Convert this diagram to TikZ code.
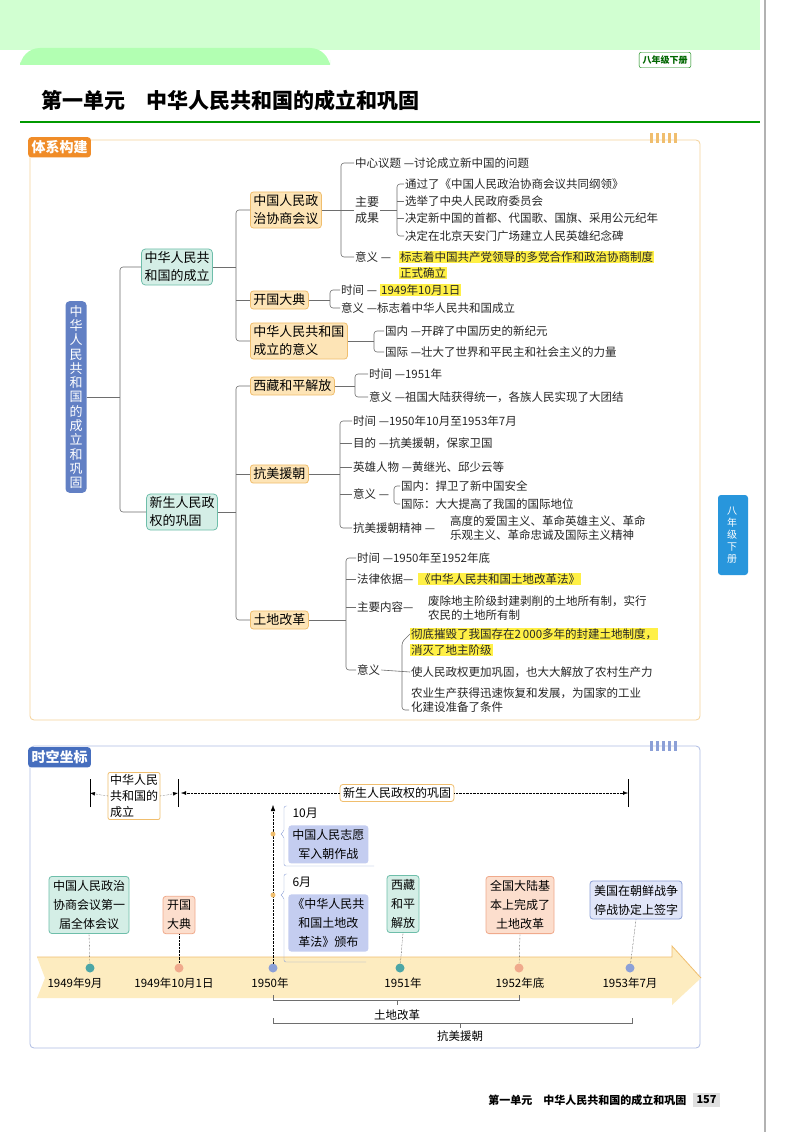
\documentclass[tikz,border=0pt]{standalone}
\usepackage{fontspec}
\setmainfont{Noto Sans CJK SC}
\usetikzlibrary{positioning,arrows.meta}
\definecolor{orfill}{RGB}{253,228,182}
\definecolor{ordraw}{RGB}{240,190,110}
\definecolor{tefill}{RGB}{212,238,230}
\definecolor{tedraw}{RGB}{110,190,170}
\definecolor{blfill}{RGB}{196,205,240}
\definecolor{bldraw}{RGB}{140,160,215}
\definecolor{rootblue}{RGB}{98,128,196}
\definecolor{hlyellow}{RGB}{255,240,70}
\definecolor{pageorange}{RGB}{240,140,40}
\definecolor{pageblue}{RGB}{70,110,190}
\definecolor{linegray}{RGB}{110,110,110}
\definecolor{tabblue}{RGB}{40,150,220}
\definecolor{bandfill}{RGB}{253,236,192}
\definecolor{pinkfill}{RGB}{252,222,205}
\definecolor{pinkdraw}{RGB}{240,170,140}
\begin{document}
\begin{tikzpicture}[x=1pt,y=-1pt,font=\fontsize{11.5}{13.5}\selectfont,
  leaf/.style={anchor=west,inner sep=1pt,text=black!85},
  hl/.style={leaf,fill=hlyellow},
  lone/.style={draw=tedraw,fill=tefill,rounded corners=4pt,thick,align=left,inner sep=3pt,font=\fontsize{13}{18}\selectfont},
  ltwo/.style={draw=ordraw,fill=orfill,rounded corners=3pt,thick,align=left,inner sep=3pt,font=\fontsize{13}{18}\selectfont,anchor=west},
  br/.style={draw=linegray,rounded corners=3pt,line width=0.6pt},
  ev/.style={rounded corners=3pt,thick,align=center,inner sep=4pt,font=\fontsize{12}{19}\selectfont},
  dot/.style={circle,inner sep=0pt,minimum size=9pt},
  date/.style={font=\itshape\fontsize{11.5}{13}\selectfont}]
\useasboundingbox (0,0) rectangle (800,1132);
\fill[white] (0,0) rectangle (800,1132);
% page header
\fill[green!18!white] (0,0) rectangle (760,50);
\fill[green!30!white,rounded corners=20pt] (20,48) rectangle (330,80);
\fill[white] (20,65) rectangle (760,130);
\node[draw=green!50!black,fill=white,rounded corners=2pt,font=\bfseries\fontsize{9}{10}\selectfont,text=green!40!black] (grade) at (665,60) {八年级下册};
\node[anchor=west,font=\bfseries\fontsize{21}{24}\selectfont] (title) at (38,100) {第一单元\quad 中华人民共和国的成立和巩固};
\draw[green!60!black,line width=1.5pt] (20,122) -- (760,122);
% panel one
\draw[ordraw!70,thick,rounded corners=4pt] (30,140) rectangle (700,720);
\node[fill=pageorange,text=white,font=\bfseries\fontsize{14}{16}\selectfont,rounded corners=3pt,anchor=north west] (tagone) at (28,137) {体系构建};
\foreach \i in {0,...,4} \fill[ordraw] (650+\i*6,133) rectangle (653+\i*6,143);
% root and first level
\node[fill=rootblue,text=white,rounded corners=4pt,align=center,inner sep=4pt,
  font=\fontsize{13}{14.3}\selectfont] (root) at (76,397)
  {中\\华\\人\\民\\共\\和\\国\\的\\成\\立\\和\\巩\\固};
\node[lone] (est) at (177,267) {中华人民共\\和国的成立};
\node[lone] (cons) at (182,512) {新生人民政\\权的巩固};
\draw[br] (root.east) -- (120,397);
\draw[br] (est.west) -| (120,397) |- (cons.west);
% second level
\node[ltwo] (cppcc) at (250,210) {中国人民政\\治协商会议};
\node[ltwo] (found) at (250,300) {开国大典};
\node[ltwo] (mean) at (250,341) {中华人民共和国\\成立的意义};
\node[ltwo] (tibet) at (250,386) {西藏和平解放};
\node[ltwo] (korea) at (250,474) {抗美援朝};
\node[ltwo] (land) at (250,620) {土地改革};
\draw[br] (est.east) -- (236,267);
\draw[br] (cppcc.west) -| (236,267) |- (mean.west);
\draw[br] (found.west) -- (236,300);
\draw[br] (cons.east) -- (236,512);
\draw[br] (tibet.west) -| (236,512) |- (land.west);
\draw[br] (korea.west) -- (236,474);
% cppcc leaves
\node[leaf] (topic) at (354,163) {中心议题 —讨论成立新中国的问题};
\node[leaf,align=left,font=\fontsize{12}{16}\selectfont] (result) at (354,210) {主要\\成果};
\node[leaf] (cmean) at (354,257) {意义 —};
\node[hl] (cmeana) at (399,257) {标志着中国共产党领导的多党合作和政治协商制度};
\node[hl] (cmeanb) at (399,273) {正式确立};
\draw[br] (topic.west) -- (341,163) -- (341,257) -- (cmean.west);
\draw[br] (cppcc.east) -- (354,210);
\node[leaf] (ra) at (404,184) {通过了《中国人民政治协商会议共同纲领》};
\node[leaf] (rb) at (404,201) {选举了中央人民政府委员会};
\node[leaf] (rc) at (404,218) {决定新中国的首都、代国歌、国旗、采用公元纪年};
\node[leaf] (rd) at (404,236) {决定在北京天安门广场建立人民英雄纪念碑};
\draw[br] (ra.west) -- (397,184) -- (397,236) -- (rd.west);
\draw[br] (result.east) -- (397,210);
\draw[br] (rb.west) -- (397,201);
\draw[br] (rc.west) -- (397,218);
% founding ceremony
\node[leaf] (ftime) at (340,290) {时间 —};
\node[hl] (fdate) at (380,290) {1949年10月1日};
\node[leaf] (fmean) at (340,308) {意义 —标志着中华人民共和国成立};
\draw[br] (ftime.west) -- (330,290) -- (330,308) -- (fmean.west);
\draw[br] (found.east) -- (330,300);
% meaning
\node[leaf] (home) at (384,331) {国内 —开辟了中国历史的新纪元};
\node[leaf] (world) at (384,352) {国际 —壮大了世界和平民主和社会主义的力量};
\draw[br] (home.west) -- (374,331) -- (374,352) -- (world.west);
\draw[br] (mean.east) -- (374,341);
% tibet
\node[leaf] (ttime) at (368,374) {时间 —1951年};
\node[leaf] (tmean) at (368,397) {意义 —祖国大陆获得统一，各族人民实现了大团结};
\draw[br] (ttime.west) -- (355,374) -- (355,397) -- (tmean.west);
\draw[br] (tibet.east) -- (355,386);
% korea
\node[leaf] (ktime) at (352,421) {时间 —1950年10月至1953年7月};
\node[leaf] (kaim) at (352,443) {目的 —抗美援朝，保家卫国};
\node[leaf] (khero) at (352,467) {英雄人物 —黄继光、邱少云等};
\node[leaf] (kmean) at (352,494) {意义 —};
\node[leaf] (kspirit) at (352,528) {抗美援朝精神 —};
\node[leaf,align=left] (kspirittxt) at (449,528) {高度的爱国主义、革命英雄主义、革命\\乐观主义、革命忠诚及国际主义精神};
\draw[br] (ktime.west) -- (340,421) -- (340,528) -- (kspirit.west);
\draw[br] (korea.east) -- (340,474);
\foreach \n in {kaim,khero,kmean} \draw[br] (\n.west) -- (340,0 |- \n.west);
\node[leaf] (khome) at (400,486) {国内：捍卫了新中国安全};
\node[leaf] (kworld) at (400,504) {国际：大大提高了我国的国际地位};
\draw[br] (khome.west) -- (394,486) -- (394,504) -- (kworld.west);
% land reform
\node[leaf] (ltime) at (356,558) {时间 —1950年至1952年底};
\node[leaf] (llaw) at (356,579) {法律依据—};
\node[hl] (llawtxt) at (418,579) {《中华人民共和国土地改革法》};
\node[leaf] (lcont) at (356,607) {主要内容—};
\node[leaf,align=left] (lconttxt) at (427,608) {废除地主阶级封建剥削的土地所有制，实行\\农民的土地所有制};
\node[leaf] (lmean) at (356,670) {意义};
\draw[br] (ltime.west) -- (346,558) -- (346,670) -- (lmean.west);
\draw[br] (land.east) -- (346,620);
\foreach \n in {llaw,lcont} \draw[br] (\n.west) -- (346,0 |- \n.west);
\node[hl] (lma) at (410,634) {彻底摧毁了我国存在2\,000多年的封建土地制度，};
\node[hl] (lmb) at (410,650) {消灭了地主阶级};
\node[leaf] (lmc) at (410,672) {使人民政权更加巩固，也大大解放了农村生产力};
\node[leaf,align=left] (lmd) at (410,700) {农业生产获得迅速恢复和发展，为国家的工业\\化建设准备了条件};
\draw[br] (lma.west) -- (402,642) -- (402,710) -- (409,710);
\draw[br] (lmean.east) -- (lmc.west);
% side tab
\fill[tabblue,rounded corners=3pt] (718,495) rectangle (748,575);
\node[text=white,align=center,font=\fontsize{10}{12}\selectfont] (tab) at (732,535) {八\\年\\级\\下\\册};
\draw[gray!60,line width=1.5pt] (765,0) -- (765,1132);
% panel two
\draw[bldraw!70,thick,rounded corners=4pt] (30,746) rectangle (700,1048);
\node[fill=pageblue,text=white,font=\bfseries\fontsize{14}{16}\selectfont,rounded corners=3pt,anchor=north west] (tagtwo) at (28,747) {时空坐标};
\foreach \i in {0,...,4} \fill[bldraw] (650+\i*6,741) rectangle (653+\i*6,751);
% range bar
\node[draw=ordraw,thick,fill=white,rounded corners=2pt,align=left,inner sep=2pt,font=\fontsize{12}{16}\selectfont] (rest) at (134,796) {中华人民\\共和国的\\成立};
\node[draw=ordraw,thick,fill=white,rounded corners=3pt,inner sep=3pt,font=\fontsize{12}{14}\selectfont] (rcons) at (397,793) {新生人民政权的巩固};
\coordinate (ta) at (90,793);
\coordinate (tb) at (178,793);
\coordinate (tc) at (628,793);
\foreach \c in {ta,tb,tc} \draw[thick] ([yshift=-14]\c) -- ([yshift=14]\c);
\draw[densely dotted,-{Latex[length=5pt]}] (rest.west) -- (ta);
\draw[densely dotted,-{Latex[length=5pt]}] (rest.east) -- (tb);
\draw[densely dotted,-{Latex[length=5pt]}] (rcons.west) -- ([xshift=3]tb);
\draw[densely dotted,-{Latex[length=5pt]}] (rcons.east) -- (tc);
% timeline band
\fill[bandfill] (37,957) -- (672,957) -- (672,946) -- (701,978) -- (672,1005) -- (672,998) -- (37,998) -- (45,978) -- cycle;
\draw[ordraw,thick] (37,957) -- (672,957) -- (672,946) -- (701,978);
\node[dot,fill=teal!70] (d1) at (90,968) {};
\node[dot,fill=pinkdraw] (d2) at (179,968) {};
\node[dot,fill=bldraw] (d3) at (273,968) {};
\node[dot,fill=teal!70] (d4) at (400,968) {};
\node[dot,fill=pinkdraw] (d5) at (519,968) {};
\node[dot,fill=bldraw] (d6) at (630,968) {};
\node[date] (t1) at (75,983) {1949年9月};
\node[date] (t2) at (174,983) {1949年10月1日};
\node[date] (t3) at (270,983) {1950年};
\node[date] (t4) at (403,983) {1951年};
\node[date] (t5) at (520,983) {1952年底};
\node[date] (t6) at (630,983) {1953年7月};
% events
\node[ev,draw=tedraw,fill=tefill] (e1) at (89,905) {中国人民政治\\协商会议第一\\届全体会议};
\node[ev,draw=pinkdraw,fill=pinkfill] (e2) at (179,915) {开国\\大典};
\node[ev,draw=tedraw,fill=tefill] (e4) at (403,904) {西藏\\和平\\解放};
\node[ev,draw=pinkdraw,fill=pinkfill] (e5) at (520,905) {全国大陆基\\本上完成了\\土地改革};
\node[ev,draw=bldraw,fill=blfill!50] (e6) at (636,900) {美国在朝鲜战争\\停战协定上签字};
\foreach \e/\d in {e1/d1,e2/d2,e4/d4,e5/d5,e6/d6} \draw[densely dotted] (\e.south) -- (\d);
\node[ev,fill=blfill,anchor=north west] (e3a) at (288,825) {中国人民志愿\\军入朝作战};
\node[ev,fill=blfill,anchor=north west] (e3b) at (288,894) {《中华人民共\\和国土地改\\革法》颁布};
\node[anchor=west,font=\fontsize{12}{13}\selectfont] (m10) at (289,813) {10月};
\node[anchor=west,font=\fontsize{12}{13}\selectfont] (m6) at (289,882) {6月};
\draw[densely dotted,-{Latex[length=6pt]}] (d3) -- (273,805);
\node[dot,minimum size=5pt,fill=ordraw] (s10) at (273,834) {};
\node[dot,minimum size=5pt,fill=ordraw] (s6) at (273,895) {};
\draw[bldraw,rounded corners=2pt] (287,806) -- (284,806) -- (284,832) -- (280,834) -- (284,836) -- (284,866) -- (374,866);
\draw[bldraw,rounded corners=2pt] (287,874) -- (284,874) -- (284,893) -- (280,895) -- (284,897) -- (284,962) -- (366,962);
% braces
\draw[linegray] (273,995) -- (273,1000) -- (519,1000) -- (519,995);
\draw[linegray] (397,1000) -- (397,1005);
\node (bland) at (397,1015) {土地改革};
\draw[linegray] (273,1018) -- (273,1023) -- (632,1023) -- (632,1018);
\draw[linegray] (460,1023) -- (460,1028);
\node (bkorea) at (460,1036) {抗美援朝};
% footer
\node[anchor=east,font=\bfseries\fontsize{11}{13}\selectfont] (foot) at (690,1100) {第一单元\quad 中华人民共和国的成立和巩固};
\node[fill=gray!25,font=\bfseries\fontsize{11}{13}\selectfont,anchor=west] (page) at (693,1100) {157};
\end{tikzpicture}
\end{document}
